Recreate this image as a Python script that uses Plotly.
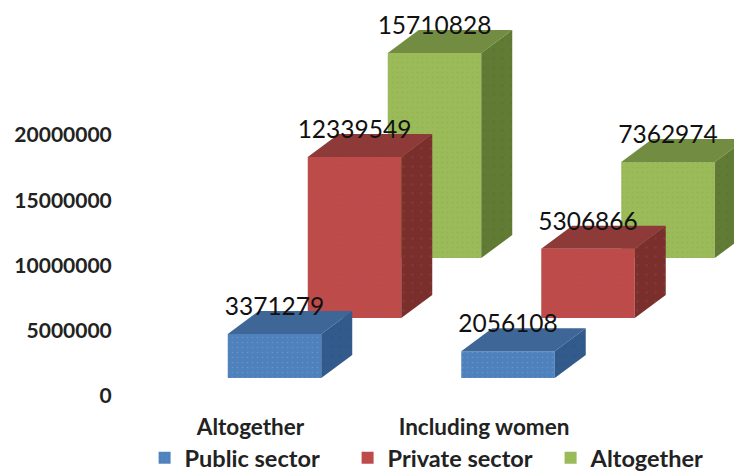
import plotly.graph_objects as go

categories = ["Altogether", "Including women"]
series_names = ["Public sector", "Private sector", "Altogether"]
public_sector = [3371279, 2056108]
private_sector = [12339549, 5306866]
altogether = [15710828, 7362974]
y_ticks = [0, 5000000, 10000000, 15000000, 20000000]

# Pixel scale of the plot frame
FIG_W, FIG_H = 734, 473
M_L, M_R, M_T, M_B = 120, 0, 0, 67
PX_PER_X = 233.5
PX_PER_Y = 13.05 / 1e6


def dx(px):
    return px / PX_PER_X


def dy(px):
    return px / PX_PER_Y


BAR_W = dx(93.5)
DEPTH_X, DEPTH_Y = dx(31), dy(23)
FIRST_OFFSET, SERIES_STEP = dx(24), dx(80)
FIRST_BASE, BASE_STEP = dy(18), dy(60)
LABEL_LIFT = dy(25)

styles = {
    "Public sector": ("#4F81BD", "#3E6696", "#325A8A", "#7FA6D6", "#2A4F86"),
    "Private sector": ("#BE4B48", "#8D3A38", "#7A2F2D", "#A05A78", "#8A4A40"),
    "Altogether": ("#9BBB59", "#728C41", "#5F7B34", "#86A45A", "#7A5A3A"),
}

columns = [
    (0, "Public sector", public_sector),
    (1, "Private sector", private_sector),
    (2, "Altogether", altogether),
]

fig = go.Figure()

# Back row first so that nearer columns cover farther ones
for depth, name, values in reversed(columns):
    front, top, side, dot, side_dot = styles[name]
    base = FIRST_BASE + depth * BASE_STEP
    xs = [i + FIRST_OFFSET + depth * SERIES_STEP for i in range(len(values))]

    fig.add_trace(go.Bar(
        x=xs, y=values, base=[base] * len(values), width=BAR_W, name=name,
        legendrank=depth + 1, hoverinfo="skip",
        marker=dict(color=front, line_width=0,
                    pattern=dict(shape=".", size=5, solidity=0.08,
                                 fgcolor=dot, bgcolor=front)),
    ))

    for x, v in zip(xs, values):
        left, right = x - BAR_W / 2, x + BAR_W / 2
        y_top = base + v
        # Upper face
        fig.add_trace(go.Scatter(
            x=[left, right, right + DEPTH_X, left + DEPTH_X, left],
            y=[y_top, y_top, y_top + DEPTH_Y, y_top + DEPTH_Y, y_top],
            mode="lines", fill="toself", fillcolor=top, line_width=0,
            showlegend=False, hoverinfo="skip",
        ))
        # Right-hand face
        fig.add_trace(go.Scatter(
            x=[right, right + DEPTH_X, right + DEPTH_X, right, right],
            y=[base, base + DEPTH_Y, y_top + DEPTH_Y, y_top, base],
            mode="lines", fill="toself", fillcolor=side, line_width=0,
            fillpattern=dict(shape=".", size=9, solidity=0.05,
                             fgcolor=side_dot, bgcolor=side),
            showlegend=False, hoverinfo="skip",
        ))

# Value labels sit above each column
for depth, name, values in columns:
    base = FIRST_BASE + depth * BASE_STEP
    fig.add_trace(go.Scatter(
        x=[i + FIRST_OFFSET + depth * SERIES_STEP for i in range(len(values))],
        y=[base + v + LABEL_LIFT for v in values],
        text=[str(v) for v in values],
        mode="text", textposition="middle center",
        textfont=dict(family="Lato", size=24.5, color="#111111"),
        showlegend=False, hoverinfo="skip",
    ))

plot_w = FIG_W - M_L - M_R
plot_h = FIG_H - M_T - M_B
x_min = -dx(130.5)
y_min = -dy(10)

fig.update_layout(
    width=FIG_W, height=FIG_H,
    margin=dict(l=M_L, r=M_R, t=M_T, b=M_B, autoexpand=False),
    paper_bgcolor="white", plot_bgcolor="white",
    barmode="overlay",
    font=dict(family="Lato", color="#222222"),
    legend=dict(
        orientation="h", x=0.197, y=0.032, xref="container", yref="container",
        xanchor="left", yanchor="middle",
        entrywidth=158, entrywidthmode="pixels",
        font=dict(family="Lato", size=23.5, weight=700, color="#222222"),
        bgcolor="rgba(0,0,0,0)", traceorder="normal",
    ),
    xaxis=dict(
        range=[x_min, x_min + dx(plot_w)], tickmode="array",
        tickvals=list(range(len(categories))), ticktext=categories,
        showgrid=False, zeroline=False, showline=False,
        ticks="outside", ticklen=1, tickcolor="white",
        tickfont=dict(family="Lato", size=22.5, weight=700, color="#222222"),
    ),
    yaxis=dict(
        range=[y_min, y_min + dy(plot_h)], tickmode="array",
        tickvals=y_ticks, ticktext=[str(t) for t in y_ticks],
        showgrid=False, zeroline=False, showline=False,
        ticks="outside", ticklen=3, tickcolor="white",
        tickfont=dict(family="Lato", size=21, weight=700, color="#222222"),
    ),
)

fig.write_html("out.html")
